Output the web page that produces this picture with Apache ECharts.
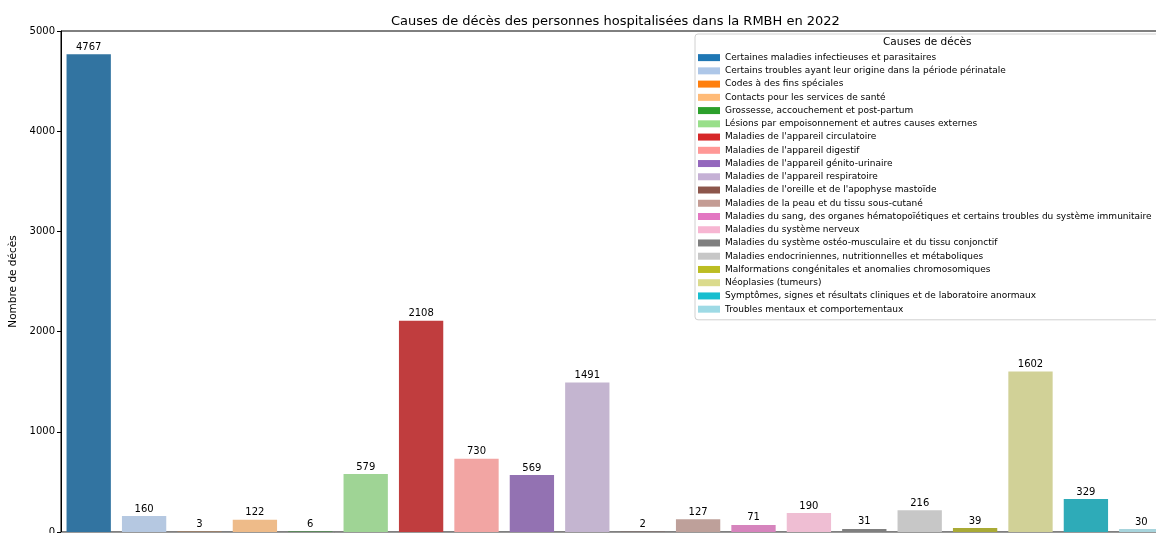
<!DOCTYPE html>
<html>
<head>
<meta charset="utf-8">
<script src="https://cdn.jsdelivr.net/npm/echarts@6/dist/echarts.min.js"></script>
<style>html,body{margin:0;padding:0;background:#fff}#c{width:1156px;height:533px}</style>
</head>
<body>
<div id="c"></div>
<script>
const categories = [
  "Certaines maladies infectieuses et parasitaires",
  "Certains troubles ayant leur origine dans la période périnatale",
  "Codes à des fins spéciales",
  "Contacts pour les services de santé",
  "Grossesse, accouchement et post-partum",
  "Lésions par empoisonnement et autres causes externes",
  "Maladies de l'appareil circulatoire",
  "Maladies de l'appareil digestif",
  "Maladies de l'appareil génito-urinaire",
  "Maladies de l'appareil respiratoire",
  "Maladies de l'oreille et de l'apophyse mastoïde",
  "Maladies de la peau et du tissu sous-cutané",
  "Maladies du sang, des organes hématopoïétiques et certains troubles du système immunitaire",
  "Maladies du système nerveux",
  "Maladies du système ostéo-musculaire et du tissu conjonctif",
  "Maladies endocriniennes, nutritionnelles et métaboliques",
  "Malformations congénitales et anomalies chromosomiques",
  "Néoplasies (tumeurs)",
  "Symptômes, signes et résultats cliniques et de laboratoire anormaux",
  "Troubles mentaux et comportementaux"
];
const deaths = [4767, 160, 3, 122, 6, 579, 2108, 730, 569, 1491, 2, 127, 71, 190, 31, 216, 39, 1602, 329, 30];
const yTicks = [0, 1000, 2000, 3000, 4000, 5000];
const palette = ['#1f77b4','#aec7e8','#ff7f0e','#ffbb78','#2ca02c','#98df8a','#d62728','#ff9896','#9467bd','#c5b0d5','#8c564b','#c49c94','#e377c2','#f7b6d2','#7f7f7f','#c7c7c7','#bcbd22','#dbdb8d','#17becf','#9edae5'];

function desat(hex, f) {
  let r = parseInt(hex.slice(1,3),16)/255, g = parseInt(hex.slice(3,5),16)/255, b = parseInt(hex.slice(5,7),16)/255;
  const mx = Math.max(r,g,b), mn = Math.min(r,g,b);
  const l = (mx+mn)/2;
  if (mx === mn) return hex;
  const d = mx - mn;
  let s = l > 0.5 ? d/(2-mx-mn) : d/(mx+mn);
  let h;
  if (mx === r) h = ((g-b)/d + (g<b?6:0));
  else if (mx === g) h = (b-r)/d + 2;
  else h = (r-g)/d + 4;
  h /= 6;
  s *= f;
  const q = l < 0.5 ? l*(1+s) : l+s-l*s;
  const p = 2*l - q;
  function hue(t){ if(t<0)t+=1; if(t>1)t-=1; if(t<1/6)return p+(q-p)*6*t; if(t<1/2)return q; if(t<2/3)return p+(q-p)*(2/3-t)*6; return p; }
  const to = v => Math.round(v*255).toString(16).padStart(2,'0');
  return '#' + to(hue(h+1/3)) + to(hue(h)) + to(hue(h-1/3));
}

const FONT = 'DejaVu Sans';
const series = categories.map((name, i) => ({
  name: name,
  type: 'bar',
  stack: 'all',
  barWidth: '80%',
  itemStyle: { color: desat(palette[i], 0.75) },
  label: { show: true, position: 'top', distance: 2, color: '#000', fontFamily: FONT, fontSize: 10 },
  data: deaths.map((v, j) => j === i ? v : null)
}));

const chart = echarts.init(document.getElementById('c'), null, { renderer: 'canvas' });
chart.setOption({
  animation: false,
  backgroundColor: '#fff',
  title: {
    text: 'Causes de décès des personnes hospitalisées dans la RMBH en 2022',
    left: 386, top: 10,
    textStyle: { fontFamily: FONT, fontSize: 13, fontWeight: 'normal', color: '#000' }
  },
  grid: { left: 61, top: 31, width: 1108, bottom: 1, show: true, borderColor: '#000', borderWidth: 1, backgroundColor: 'transparent', outerBoundsMode: 'none', containLabel: false },
  xAxis: {
    type: 'category', data: categories,
    axisLabel: { show: false }, axisTick: { show: false },
    axisLine: { show: true, lineStyle: { color: '#999', width: 1 } }
  },
  yAxis: {
    type: 'value', min: yTicks[0], max: yTicks[yTicks.length-1], interval: 1000,
    name: 'Nombre de décès', nameLocation: 'middle', nameGap: 38,
    nameTextStyle: { fontFamily: FONT, fontSize: 10.5, color: '#000' },
    axisLine: { show: true, lineStyle: { color: '#000', width: 1 } },
    axisTick: { show: true, inside: false, length: 4, lineStyle: { color: '#000' } },
    axisLabel: { fontFamily: FONT, fontSize: 10, color: '#000', margin: 6, formatter: v => String(v) },
    splitLine: { show: false }
  },
  legend: {
    orient: 'vertical', left: 695, top: 34,
    selectedMode: false,
    backgroundColor: '#fff', borderColor: '#d0d0d0', borderWidth: 1, borderRadius: 3,
    padding: [17, 40, 4, 3],
    itemWidth: 22, itemHeight: 7, itemGap: 0,
    icon: 'rect',
    textStyle: { fontFamily: FONT, fontSize: 9, color: '#000', lineHeight: 13.24 },
    data: categories.map((n, i) => ({ name: n, itemStyle: { color: palette[i] } }))
  },
  graphic: [{
    type: 'text', left: 883, top: 37, z: 100,
    style: { text: 'Causes de décès', font: '10.5px "DejaVu Sans"', fill: '#000' }
  }],
  series: series
});
</script>
</body>
</html>
